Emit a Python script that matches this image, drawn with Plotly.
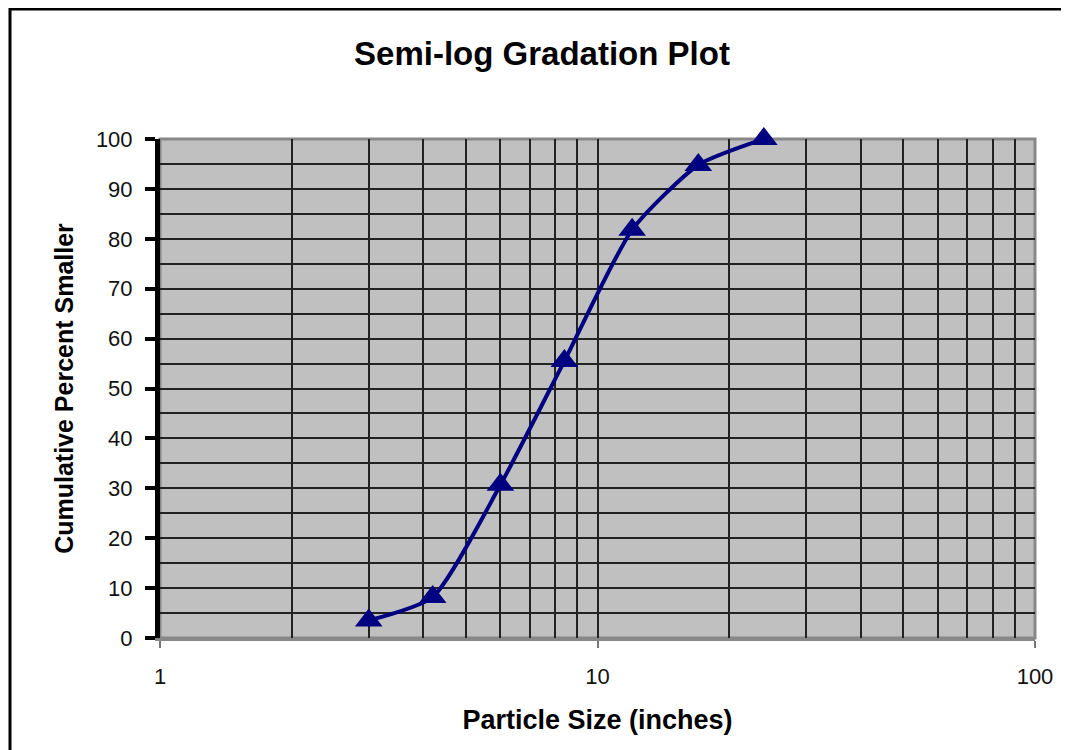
import plotly.graph_objects as go

particle_size = [3, 4.2, 6, 8.4, 12, 17, 24]
percent_smaller = [3.5, 8.2, 30.7, 55.5, 81.8, 94.8, 100]

x_tick_vals = [1, 10, 100]
x_tick_text = ["1", "10", "100"]
x_minor_vals = [2, 3, 4, 5, 6, 7, 8, 9, 20, 30, 40, 50, 60, 70, 80, 90]
y_tick_vals = [0, 10, 20, 30, 40, 50, 60, 70, 80, 90, 100]

FONT = "Liberation Sans, Arial, sans-serif"
NAVY = "#000080"

fig = go.Figure()
fig.add_trace(go.Scatter(
    x=particle_size, y=percent_smaller,
    mode="lines+markers",
    line=dict(color=NAVY, width=4, shape="spline", smoothing=0.6),
    marker=dict(symbol="triangle-up", size=24, color=NAVY),
    showlegend=False, cliponaxis=False,
))

# page offset (body margin) of 8px is compensated in these numbers
W, H = 1061, 742
L, T = 152, 131
pw, ph = 875, 499
R = W - L - pw
B = H - T - ph

fig.update_layout(
    width=W, height=H,
    margin=dict(l=L, r=R, t=T, b=B),
    paper_bgcolor="white",
    plot_bgcolor="#C0C0C0",
    font=dict(family=FONT, size=22, color="#111111"),
    title=dict(text="<b>Semi-log Gradation Plot</b>", x=534 / W, xanchor="center",
               y=1 - 45 / H, yanchor="middle", font=dict(size=33, color="black")),
    xaxis=dict(
        type="log", range=[0, 2],
        tickvals=x_tick_vals, ticktext=x_tick_text,
        showgrid=True, gridcolor="#222222", gridwidth=1.5,
        ticks="outside", ticklen=7, tickcolor="#777777", tickwidth=2,
        showline=True, linecolor="#888888", linewidth=3,
        minor=dict(tickvals=x_minor_vals, showgrid=True, gridcolor="#222222", gridwidth=1.5, ticks=""),
        zeroline=False,
        ticklabelstandoff=10,
        title=dict(text="<b>Particle Size (inches)</b>", font=dict(size=27, color="black"), standoff=22),
    ),
    yaxis=dict(
        range=[0, 100],
        tickvals=y_tick_vals,
        showgrid=True, gridcolor="#222222", gridwidth=1.5,
        ticks="outside", ticklen=10, tickcolor="black", tickwidth=4,
        showline=True, linecolor="black", linewidth=5,
        minor=dict(dtick=5, showgrid=True, gridcolor="#222222", gridwidth=1.5, ticks=""),
        zeroline=False,
        ticklabelstandoff=8,
        title=dict(text="<b>Cumulative Percent Smaller</b>", font=dict(size=25, color="black"), standoff=17),
    ),
    shapes=[
        dict(type="rect", xref="paper", yref="paper", x0=0, x1=1, y0=0, y1=1,
             line=dict(color="#888888", width=3), layer="between"),
        dict(type="rect", xref="paper", yref="paper",
             x0=(2 - L) / pw, x1=(W + 30 - L) / pw,
             y0=(T + ph - (H + 30)) / ph, y1=(T + ph - 1) / ph,
             line=dict(color="black", width=3), layer="above"),
    ],
)

fig.write_html("out.html")
